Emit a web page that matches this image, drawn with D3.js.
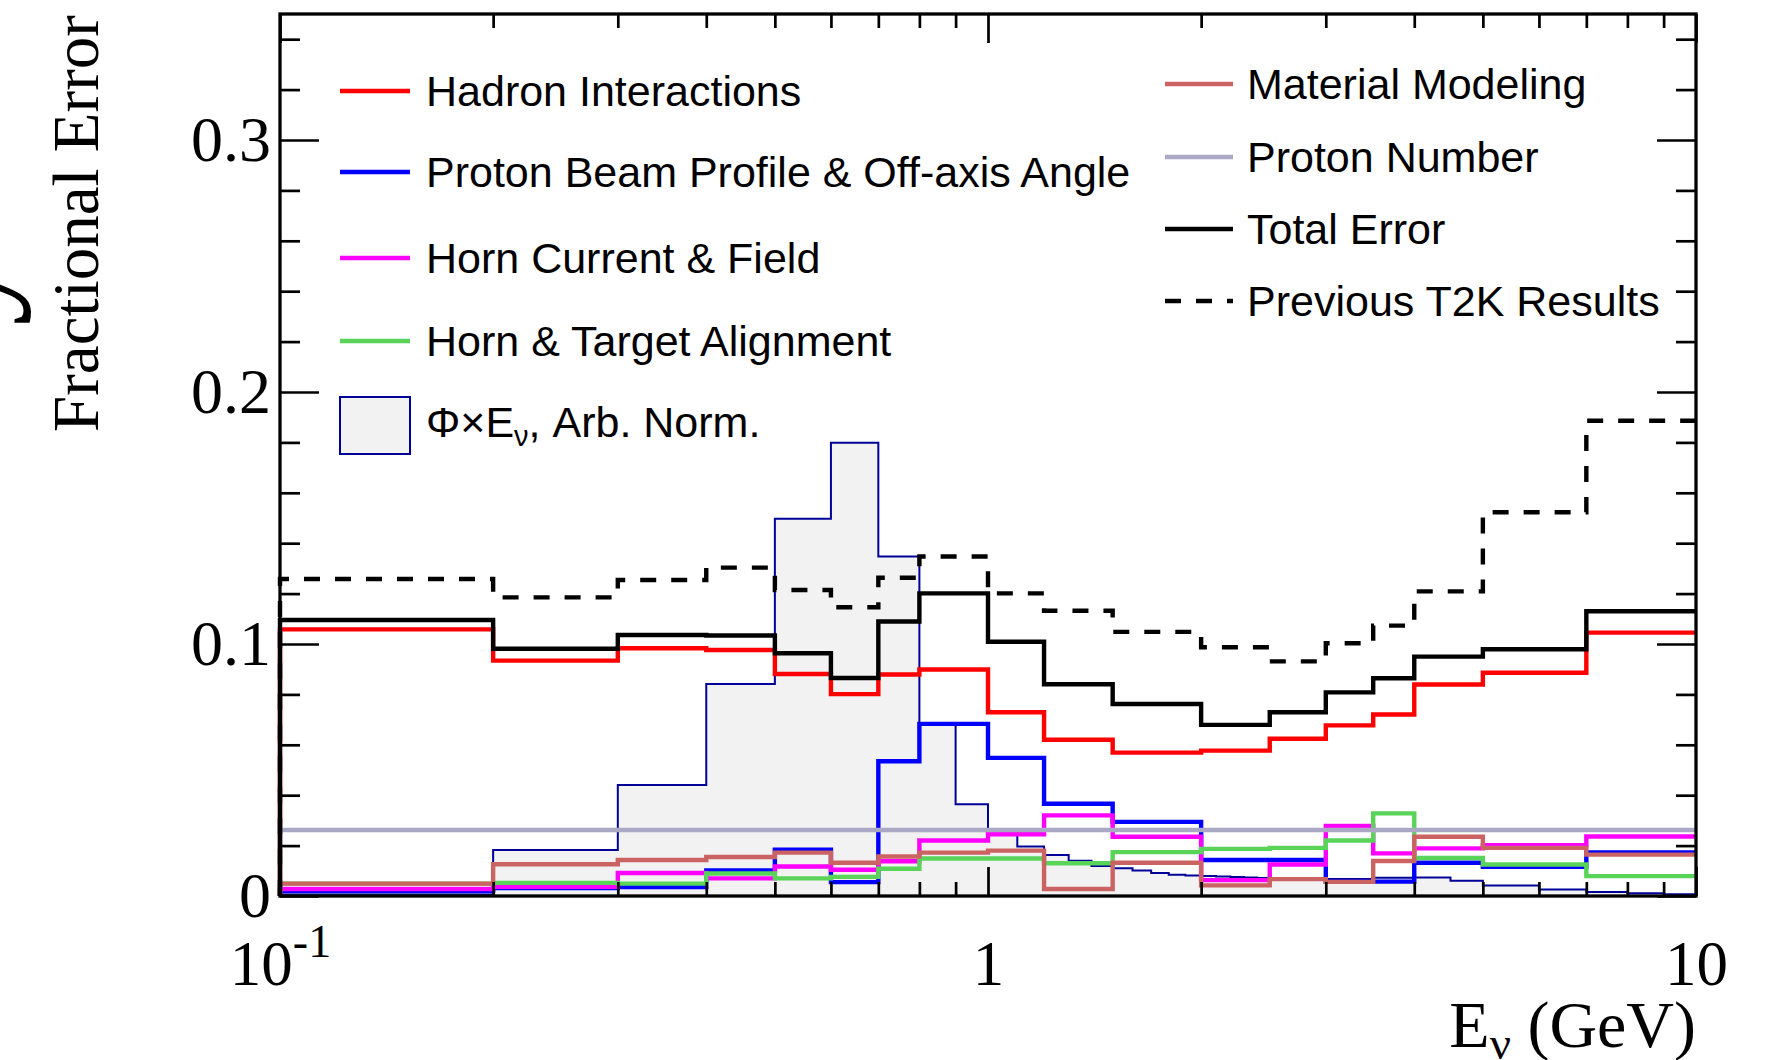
<!DOCTYPE html>
<html>
<head>
<meta charset="utf-8">
<script src="https://cdnjs.cloudflare.com/ajax/libs/d3/7.8.5/d3.min.js"></script>
<style>
  body { margin: 0; background: #fff; }
  svg { display: block; }
</style>
</head>
<body>
<div id="chart"></div>
<script>
// systematic error binning (GeV)
var binEdges = [0.1, 0.2, 0.3, 0.4, 0.5, 0.6, 0.7, 0.8, 1.0, 1.2, 1.5, 2.0, 2.5, 3.0, 3.5, 4.0, 5.0, 7.0, 10.0];

var hadron      = [0.1058, 0.0934, 0.0983, 0.0976, 0.0881, 0.0801, 0.0879, 0.0899, 0.0729, 0.0620, 0.0569, 0.0577, 0.0624, 0.0677, 0.0720, 0.0839, 0.0886, 0.1045];
var beam        = [0.0020, 0.0032, 0.0036, 0.0101, 0.0184, 0.0055, 0.0535, 0.0683, 0.0548, 0.0366, 0.0294, 0.0143, 0.0143, 0.0057, 0.0057, 0.0132, 0.0116, 0.0173];
var hornCurrent = [0.0028, 0.0037, 0.0091, 0.0070, 0.0117, 0.0104, 0.0138, 0.0220, 0.0245, 0.0320, 0.0235, 0.0063, 0.0125, 0.0278, 0.0169, 0.0189, 0.0202, 0.0236];
var hornAlign   = [0.0049, 0.0052, 0.0049, 0.0089, 0.0070, 0.0076, 0.0108, 0.0149, 0.0149, 0.0130, 0.0174, 0.0187, 0.0191, 0.0220, 0.0328, 0.0151, 0.0125, 0.0079];
var material    = [0.0049, 0.0126, 0.0143, 0.0155, 0.0172, 0.0132, 0.0157, 0.0172, 0.0180, 0.0028, 0.0132, 0.0042, 0.0067, 0.0056, 0.0139, 0.0235, 0.0191, 0.0164];
var protonNum   = [0.0262, 0.0262, 0.0262, 0.0262, 0.0262, 0.0262, 0.0262, 0.0262, 0.0262, 0.0262, 0.0262, 0.0262, 0.0262, 0.0262, 0.0262, 0.0262, 0.0262, 0.0262];
var total       = [0.1095, 0.0981, 0.1036, 0.1034, 0.0963, 0.0865, 0.1089, 0.1201, 0.1009, 0.0840, 0.0762, 0.0679, 0.0729, 0.0808, 0.0864, 0.0950, 0.0979, 0.1130];
var previous    = [0.1258, 0.1185, 0.1254, 0.1303, 0.1214, 0.1146, 0.1263, 0.1347, 0.1201, 0.1132, 0.1048, 0.0987, 0.0931, 0.1003, 0.1073, 0.1209, 0.1523, 0.1886];

// flux x energy, arbitrary normalisation, finer binning
var fluxEdges = [0.1, 0.2, 0.3, 0.4, 0.5, 0.6, 0.7, 0.8, 0.9, 1.0, 1.1, 1.2, 1.3, 1.4, 1.5, 1.6, 1.7, 1.8, 1.9, 2.0,
                 2.1, 2.2, 2.3, 2.4, 2.5, 3.0, 3.5, 4.0, 4.5, 5.0, 6.0, 7.0, 8.0, 9.0, 10.0];
var fluxValues = [0.0006, 0.0183, 0.0440, 0.0841, 0.1497, 0.1799, 0.1347, 0.0680, 0.0364, 0.0250, 0.0196, 0.0163, 0.0140,
                  0.0119, 0.0110, 0.0101, 0.0091, 0.0084, 0.0081, 0.0079, 0.0077, 0.0075, 0.0073, 0.0071, 0.0069, 0.0067,
                  0.0072, 0.0073, 0.0061, 0.0042, 0.0026, 0.0016, 0.0011, 0.0007];

// ticks
var xMajor = [0.1, 1, 10];
var xMajorLabels = ["10", "1", "10"];
var xMinor = [0.2, 0.3, 0.4, 0.5, 0.6, 0.7, 0.8, 0.9, 2, 3, 4, 5, 6, 7, 8, 9];
var yMajor = [0, 0.1, 0.2, 0.3];
var yMajorLabels = ["0", "0.1", "0.2", "0.3"];
var yMinor = [0.02, 0.04, 0.06, 0.08, 0.12, 0.14, 0.16, 0.18, 0.22, 0.24, 0.26, 0.28, 0.32, 0.34];

var width = 1773, height = 1060;
var frame = { left: 280, right: 1696, top: 14, bottom: 896 };
var serif = "'Liberation Serif', 'Times New Roman', serif";
var sans = "'Liberation Sans', Arial, Helvetica, sans-serif";
var lineW = 4.4;

var svg = d3.select("#chart").append("svg")
  .attr("width", width)
  .attr("height", height);

svg.append("rect").attr("width", width).attr("height", height).attr("fill", "#fff");

var xScale = d3.scaleLog().domain([0.1, 10]).range([frame.left, frame.right]);
var yScale = d3.scaleLinear().domain([0, 0.35]).range([frame.bottom, frame.top]);

// histogram outline: rises from zero at the first edge
function histPoints(edges, values){
  var pts = [[edges[0], 0]];
  values.forEach(function(v, i){ pts.push([edges[i], v]); });
  pts.push([edges[edges.length - 1], values[values.length - 1]]);
  return pts;
}

var stepLine = d3.line()
  .x(function(d){ return xScale(d[0]); })
  .y(function(d){ return yScale(d[1]); })
  .curve(d3.curveStepAfter);

var stepArea = d3.area()
  .x(function(d){ return xScale(d[0]); })
  .y0(yScale(0))
  .y1(function(d){ return yScale(d[1]); })
  .curve(d3.curveStepAfter);

var plot = svg.append("g");

// flux histogram in the back
var fluxPts = histPoints(fluxEdges, fluxValues);
plot.append("path")
  .attr("d", stepArea(fluxPts))
  .attr("fill", "#f2f2f2");
plot.append("path")
  .attr("d", stepLine(fluxPts))
  .attr("fill", "none")
  .attr("stroke", "#000099")
  .attr("stroke-width", 2);

var series = [
  { values: hadron,      color: "#ff0000", dash: null },
  { values: beam,        color: "#0000ff", dash: null },
  { values: hornCurrent, color: "#ff00ff", dash: null },
  { values: hornAlign,   color: "#59d459", dash: null },
  { values: material,    color: "#cc6363", dash: null },
  { values: protonNum,   color: "#aba8c6", dash: null },
  { values: total,       color: "#000000", dash: null },
  { values: previous,    color: "#000000", dash: "16 15" }
];

series.forEach(function(s){
  plot.append("path")
    .attr("d", stepLine(histPoints(binEdges, s.values)))
    .attr("fill", "none")
    .attr("stroke", s.color)
    .attr("stroke-width", lineW)
    .attr("stroke-dasharray", s.dash);
});

// axes, ROOT style: ticks inside, mirrored on top and right
function styleAxis(g){
  g.select(".domain").remove();
  g.selectAll(".tick line").attr("stroke", "#000").attr("stroke-width", 2.7);
}

var xAxisMajor = svg.append("g")
  .attr("transform", "translate(0," + frame.bottom + ")")
  .call(d3.axisBottom(xScale).tickValues(xMajor).tickSize(-29)
    .tickFormat(function(d, i){ return xMajorLabels[i]; }))
  .call(styleAxis);

xAxisMajor.selectAll(".tick text")
  .attr("y", 89)
  .attr("dy", null)
  .attr("fill", "#000")
  .style("font-family", serif)
  .style("font-size", "63px")
  .each(function(d){
    if (d === 0.1) {
      d3.select(this).append("tspan")
        .attr("dy", -28)
        .style("font-size", "46px")
        .text("-1");
    }
  });

svg.append("g")
  .attr("transform", "translate(0," + frame.bottom + ")")
  .call(d3.axisBottom(xScale).tickValues(xMinor).tickSize(-14).tickFormat(""))
  .call(styleAxis);

svg.append("g")
  .attr("transform", "translate(0," + frame.top + ")")
  .call(d3.axisTop(xScale).tickValues(xMajor).tickSize(-29).tickFormat(""))
  .call(styleAxis);

svg.append("g")
  .attr("transform", "translate(0," + frame.top + ")")
  .call(d3.axisTop(xScale).tickValues(xMinor).tickSize(-14).tickFormat(""))
  .call(styleAxis);

var yAxisMajor = svg.append("g")
  .attr("transform", "translate(" + frame.left + ",0)")
  .call(d3.axisLeft(yScale).tickValues(yMajor).tickSize(-39).tickPadding(9)
    .tickFormat(function(d, i){ return yMajorLabels[i]; }))
  .call(styleAxis);

yAxisMajor.selectAll(".tick text")
  .attr("fill", "#000")
  .style("font-family", serif)
  .style("font-size", "64px");

svg.append("g")
  .attr("transform", "translate(" + frame.left + ",0)")
  .call(d3.axisLeft(yScale).tickValues(yMinor).tickSize(-20).tickFormat(""))
  .call(styleAxis);

svg.append("g")
  .attr("transform", "translate(" + frame.right + ",0)")
  .call(d3.axisRight(yScale).tickValues(yMajor).tickSize(-39).tickFormat(""))
  .call(styleAxis);

svg.append("g")
  .attr("transform", "translate(" + frame.right + ",0)")
  .call(d3.axisRight(yScale).tickValues(yMinor).tickSize(-20).tickFormat(""))
  .call(styleAxis);

svg.append("rect")
  .attr("x", frame.left)
  .attr("y", frame.top)
  .attr("width", frame.right - frame.left)
  .attr("height", frame.bottom - frame.top)
  .attr("fill", "none")
  .attr("stroke", "#000")
  .attr("stroke-width", 3.3);

// axis titles
var xTitle = svg.append("text")
  .attr("x", frame.right)
  .attr("y", 1047)
  .attr("text-anchor", "end")
  .style("font-family", serif)
  .style("font-size", "66px")
  .text("E");
xTitle.append("tspan").attr("dy", 12).style("font-size", "47px").text("\u03bd");
xTitle.append("tspan").attr("dy", -12).text(" (GeV)");

svg.append("text")
  .attr("transform", "translate(98,15) rotate(-90)")
  .attr("text-anchor", "end")
  .style("font-family", serif)
  .style("font-size", "65px")
  .text("Fractional Error");

// tail of a neighbouring label, cut by the image edge
svg.append("text")
  .attr("transform", "translate(-1,326) rotate(-90)")
  .style("font-family", serif)
  .style("font-size", "150px")
  .text("y");

// legends
var legendLeft = [
  { label: "Hadron Interactions", color: "#ff0000", y: 91 },
  { label: "Proton Beam Profile & Off-axis Angle", color: "#0000ff", y: 172 },
  { label: "Horn Current & Field", color: "#ff00ff", y: 258 },
  { label: "Horn & Target Alignment", color: "#59d459", y: 341 }
];
var legendRight = [
  { label: "Material Modeling", color: "#cc6363", y: 84, dash: null },
  { label: "Proton Number", color: "#aba8c6", y: 157, dash: null },
  { label: "Total Error", color: "#000000", y: 229, dash: null },
  { label: "Previous T2K Results", color: "#000000", y: 301, dash: "16 15" }
];

var leg = svg.append("g").style("font-family", sans).style("font-size", "43px");

function drawLegend(entries, x0, x1, tx){
  entries.forEach(function(e){
    leg.append("line")
      .attr("x1", x0).attr("x2", x1)
      .attr("y1", e.y).attr("y2", e.y)
      .attr("stroke", e.color)
      .attr("stroke-width", lineW)
      .attr("stroke-dasharray", e.dash || null);
    leg.append("text")
      .attr("x", tx)
      .attr("y", e.y + 15)
      .text(e.label);
  });
}
drawLegend(legendLeft, 340, 410, 426);
drawLegend(legendRight, 1165, 1233, 1247);

leg.append("rect")
  .attr("x", 340).attr("y", 397)
  .attr("width", 70).attr("height", 57)
  .attr("fill", "#f2f2f2")
  .attr("stroke", "#000099")
  .attr("stroke-width", 2);

var fluxLabel = leg.append("text").attr("x", 426).attr("y", 437).text("\u03a6\u00d7E");
fluxLabel.append("tspan").attr("dy", 9).style("font-size", "29px").text("\u03bd");
fluxLabel.append("tspan").attr("dy", -9).text(", Arb. Norm.");
</script>
</body>
</html>
